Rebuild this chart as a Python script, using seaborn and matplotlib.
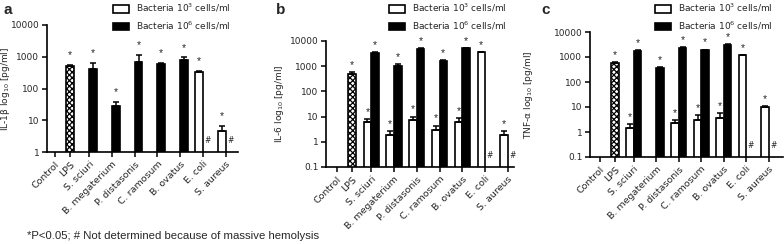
import numpy as np
import pandas as pd
import matplotlib
matplotlib.use("Agg")
import matplotlib.pyplot as plt
import seaborn as sns
from matplotlib.patches import Patch

# ---------------- data ----------------
categories = ["Control", "LPS", "S. sciuri", "B. megaterium", "P. distasonis",
              "C. ramosum", "B. ovatus", "E. coli", "S. aureus"]
legend_labels = ["Bacteria 10$^3$ cells/ml", "Bacteria 10$^6$ cells/ml"]
footnote = "*P<0.05; # Not determined because of massive hemolysis"

# IL-1beta (panel a)
il1b_lps = 510
il1b_lps_top = 545
il1b_low = [None, None, None, None, None, 340, 4.6]
il1b_low_top = [None, None, None, None, None, 365, 6.4]
il1b_high = [410, 28, 700, 590, 800, None, None]
il1b_high_top = [620, 38, 1100, 640, 950, None, None]

# IL-6 (panel b)
il6_lps = 480
il6_lps_top = 570
il6_low = [5.9, 1.8, 7.4, 3.0, 5.9, 3500, 1.9]
il6_low_top = [8.1, 2.7, 10.0, 4.4, 8.9, 3700, 2.7]
il6_high = [3400, 1060, 4800, 1600, 5100, None, None]
il6_high_top = [3700, 1200, 5100, 1720, 5400, None, None]

# TNF-alpha (panel c)
tnf_lps = 550
tnf_lps_top = 640
tnf_low = [1.5, None, 2.25, 3.05, 3.7, 1150, 10.0]
tnf_low_top = [2.1, None, 2.9, 4.9, 5.9, 1220, 10.6]
tnf_high = [1750, 360, 2300, 1850, 3000, None, None]
tnf_high_top = [1850, 390, 2450, 1970, 3400, None, None]

# ---------------- style ----------------
sns.set_style("ticks")
plt.rcParams["font.family"] = ["DejaVu Sans"]
plt.rcParams["hatch.linewidth"] = 0.9
plt.rcParams["mathtext.fontset"] = "dejavusans"

W, H = 784, 244
fig = plt.figure(figsize=(W / 100, H / 100), dpi=100)

lps_pos = 2.0
bact_pos = 4.5 + 3 * np.arange(len(categories) - 2)
tick_pos = [0.0, lps_pos] + list(bact_pos)


def fx(px):
    return px / W


def fy(py):
    return 1 - py / H


def panel(box, xlim, ylim, lps, lps_top, low, low_top, high, high_top,
          ylabel, ylab_x, letter, letter_xy, legend_xy, star_off):
    l, r, t, b = box
    ax = fig.add_axes([fx(l), fy(b), fx(r) - fx(l), fy(t) - fy(b)])
    rows = [dict(pos=lps_pos, value=lps, top=lps_top, group="LPS")]
    for i, p in enumerate(bact_pos):
        if low[i] is not None:
            rows.append(dict(pos=p - 0.5, value=low[i], top=low_top[i], group="low"))
        if high[i] is not None:
            rows.append(dict(pos=p + 0.5, value=high[i], top=high_top[i], group="high"))
    df = pd.DataFrame(rows)
    nat = np.diff(np.unique(df["pos"])).min()
    sns.barplot(data=df, x="pos", y="value", hue="group",
                hue_order=["LPS", "low", "high"],
                palette={"LPS": "white", "low": "white", "high": "black"},
                native_scale=True, dodge=False, width=1.0 / nat,
                errorbar=None, edgecolor="black", linewidth=1.2,
                legend=False, ax=ax)
    for patch in ax.patches:
        cx = patch.get_x() + patch.get_width() / 2
        if abs(cx - lps_pos) < 0.1:
            patch.set_hatch("xxxxxx")
    ax.set_yscale("log")
    ax.errorbar(df["pos"], df["value"],
                yerr=[np.zeros(len(df)), df["top"] - df["value"]],
                fmt="none", ecolor="black", elinewidth=1.1, capsize=2.0,
                capthick=1.1)
    for _, rw in df.iterrows():
        ax.annotate("*", (rw["pos"], rw["top"]), xytext=(0, star_off),
                    textcoords="offset points", ha="center", va="bottom",
                    fontsize=7.5, family="Liberation Sans")
    for i, p in enumerate(bact_pos):
        if high[i] is None:
            ax.annotate("#", (p + 0.6, ylim[0]), xytext=(0, 5),
                        textcoords="offset points", ha="center", va="bottom",
                        fontsize=5.5)
    ax.set_xlim(*xlim)
    ax.set_ylim(*ylim)
    decades = [10.0 ** k for k in range(int(np.log10(ylim[0])), int(np.log10(ylim[1])) + 1)]
    ax.set_yticks(decades)
    ax.set_yticklabels([("%g" % d) for d in decades], fontsize=6.5)
    ax.yaxis.set_minor_locator(matplotlib.ticker.NullLocator())
    ax.set_xticks(tick_pos)
    ax.set_xticklabels(categories, rotation=45, ha="right",
                       rotation_mode="anchor", fontsize=6.8)
    ax.set_xlabel("")
    ax.set_ylabel(ylabel, fontsize=6.5)
    ax.yaxis.set_label_coords(fx(ylab_x + 5), fy((t + b) / 2), transform=fig.transFigure)
    ax.tick_params(axis="both", length=3.5, width=1.1, pad=2, color="black")
    for s in ["left", "bottom"]:
        ax.spines[s].set_linewidth(1.2)
        ax.spines[s].set_color("black")
    sns.despine(ax=ax)
    fig.text(fx(letter_xy[0]), fy(letter_xy[1]), letter, fontsize=11,
             fontweight="bold", ha="left", va="center",
             family="Liberation Sans")
    handles = [Patch(facecolor="white", edgecolor="black", linewidth=1.2),
               Patch(facecolor="black", edgecolor="black", linewidth=1.2)]
    ax.legend(handles, legend_labels, loc="upper left",
              bbox_to_anchor=(fx(legend_xy[0]), fy(legend_xy[1])),
              bbox_transform=fig.transFigure, frameon=False, fontsize=6.5,
              handlelength=1.8, handleheight=0.9, labelspacing=0.6,
              borderpad=0, borderaxespad=0, handletextpad=0.7)
    return ax


panel((47, 238, 25, 152), (-1.05, 24.1), (1, 10000),
      il1b_lps, il1b_lps_top, il1b_low, il1b_low_top, il1b_high, il1b_high_top,
      "IL-1\u03b2 log$_{10}$ [pg/ml]", 7, "a", (3, 10), (113, 2), 3.5)
panel((326, 514, 41, 167), (-1.45, 23.3), (0.1, 10000),
      il6_lps, il6_lps_top, il6_low, il6_low_top, il6_high, il6_high_top,
      "IL-6 log$_{10}$ [pg/ml]", 281, "b", (276, 10), (389, 2), 1.5)
panel((590, 783, 32, 157), (-1.34, 24.4), (0.1, 10000),
      tnf_lps, tnf_lps_top, tnf_low, tnf_low_top, tnf_high, tnf_high_top,
      "TNF-\u03b1 log$_{10}$ [pg/ml]", 530, "c", (541, 10), (655, 2), 1.5)

fig.text(fx(27), fy(236), footnote, fontsize=8.2, ha="left", va="center",
         family="Liberation Sans")

fig.savefig("out.png", dpi=100)
